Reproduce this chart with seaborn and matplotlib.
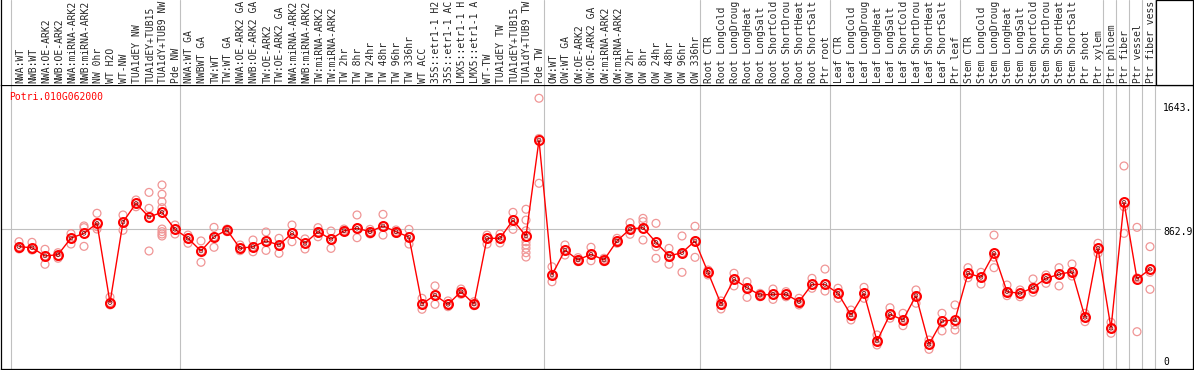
import numpy as np
import pandas as pd
import matplotlib
matplotlib.use('Agg')
import matplotlib.pyplot as plt
from matplotlib.patches import Rectangle
import seaborn as sns

# gene shown in the chart
gene = 'Potri.010G062000'

# sample labels (as displayed, cut at 14 chars)
labels = [
    'NWA:WT', 'NWB:WT', 'NWA:OE-ARK2', 'NWB:OE-ARK2', 'NWA:miRNA-ARK2', 'NWB:miRNA-ARK2',
    'NW 0hr', 'WT H2O', 'WT-NW', 'TUA1dEY NW', 'TUA1dEY+TUB15', 'TUA1dY+TUB9 NW', 'Pde NW',
    'NWA:WT GA', 'NWBWT GA', 'TW:WT', 'TW:WT GA', 'NWA:OE-ARK2 GA', 'NWB:OE-ARK2 GA',
    'TW:OE-ARK2', 'TW:OE-ARK2 GA', 'NWA:miRNA-ARK2', 'NWB:miRNA-ARK2', 'TW:miRNA-ARK2',
    'TW:miRNA-ARK2', 'TW 2hr', 'TW 8hr', 'TW 24hr', 'TW 48hr', 'TW 96hr', 'TW 336hr',
    'WT ACC', '35S::etr1-1 H2', '35S::etr1-1 AC', 'LMX5::etr1-1 H', 'LMX5::etr1-1 A',
    'WT-TW', 'TUA1dEY TW', 'TUA1dEY+TUB15', 'TUA1dY+TUB9 TW', 'Pde TW',
    'OW:WT', 'OW:WT GA', 'OW:OE-ARK2', 'OW:OE-ARK2 GA', 'OW:miRNA-ARK2', 'OW:miRNA-ARK2',
    'OW 2hr', 'OW 8hr', 'OW 24hr', 'OW 48hr', 'OW 96hr', 'OW 336hr',
    'Root CTR', 'Root LongCold', 'Root LongDroug', 'Root LongHeat', 'Root LongSalt',
    'Root ShortCold', 'Root ShortDrou', 'Root ShortHeat', 'Root ShortSalt', 'Ptr root',
    'Leaf CTR', 'Leaf LongCold', 'Leaf LongDroug', 'Leaf LongHeat', 'Leaf LongSalt',
    'Leaf ShortCold', 'Leaf ShortDrou', 'Leaf ShortHeat', 'Leaf ShortSalt', 'Ptr leaf',
    'Stem CTR', 'Stem LongCold', 'Stem LongDroug', 'Stem LongHeat', 'Stem LongSalt',
    'Stem ShortCold', 'Stem ShortDrou', 'Stem ShortHeat', 'Stem ShortSalt', 'Ptr shoot',
    'Ptr xylem', 'Ptr phloem', 'Ptr fiber', 'Ptr vessel', 'Ptr fiber vess',
]

# number of samples in each group (separated by grey lines)
group_sizes = [13, 28, 12, 10, 10, 11, 1, 1, 1, 1]

# mean expression per sample
means = [
    746, 739, 686, 694, 802, 832, 897, 384, 905, 1026, 938, 968, 858,
    800, 718, 810, 854, 735, 746, 783, 757, 832, 768, 843, 794, 849, 865, 843, 880,
    843, 808, 375, 433, 373, 455, 375, 800, 800, 918, 815, 1436,
    563, 724, 660, 697, 660, 783, 860, 869, 774, 686, 707, 783,
    580, 375, 535, 481, 433, 438, 438, 390, 502, 502,
    444, 304, 444, 136, 308, 272, 429, 114, 265, 272,
    574, 548, 703, 455, 444, 481, 541, 567, 584, 289, 735,
    218, 1033, 537, 600,
]

# replicate values per sample
reps = [
    [778, 746, 731], [774, 735, 724], [729, 686, 632], [707, 681, 671], [830, 800, 763],
    [880, 869, 748], [962, 875, 860], [420, 384, 369], [951, 905, 852], [1048, 1026, 1004],
    [1097, 994, 718], [1145, 1085, 1037, 998, 860, 843, 828, 815], [886, 858, 828],
    [821, 800, 768], [783, 718, 645], [871, 810, 742], [860, 854, 843], [757, 735, 720],
    [789, 746, 713], [841, 783, 722], [800, 757, 703], [886, 832, 778], [796, 768, 731],
    [869, 843, 810], [847, 794, 735], [860, 849, 843], [951, 865, 804], [858, 843, 828],
    [955, 880, 821], [854, 843, 832], [858, 808, 763], [412, 375, 341], [492, 433, 373],
    [395, 373, 358], [472, 455, 438], [390, 375, 364], [821, 800, 763], [828, 800, 770],
    [968, 918, 858], [988, 918, 849, 778, 757, 735, 707, 679], [1706, 1446, 1156],
    [616, 563, 519], [757, 724, 692], [675, 660, 649], [742, 697, 655], [671, 660, 649],
    [800, 783, 768], [901, 860, 826], [929, 908, 789], [897, 746, 671], [735, 686, 632],
    [815, 707, 580], [878, 783, 677],
    [595, 580, 563], [395, 375, 343], [574, 535, 492], [519, 481, 418], [444, 433, 422],
    [472, 438, 405], [455, 438, 422], [412, 390, 369], [541, 502, 477], [601, 502, 459],
    [477, 444, 412], [336, 304, 272], [483, 444, 412], [175, 136, 110], [351, 308, 283],
    [315, 272, 235], [466, 429, 380], [142, 114, 82], [315, 265, 201], [369, 240, 207],
    [610, 574, 545], [580, 548, 504], [821, 678, 610], [498, 455, 429], [466, 444, 422],
    [537, 481, 451], [563, 541, 509], [610, 567, 492], [634, 584, 556], [315, 289, 261],
    [768, 735, 703],
    [257, 218, 186], [1268, 1004, 832], [871, 544, 196], [746, 580, 470],
]

# values printed on the right side
y_ticks = [1643, 862.9, 0]
y_tick_labels = ['1643.', '862.9', '0']

idx = np.arange(len(labels))
rep_df = pd.DataFrame(
    [(i, v) for i, vals in enumerate(reps) for v in vals], columns=['sample', 'value'])

sns.set_style('white')
plt.rcParams['font.family'] = ['DejaVu Sans Mono']
plt.rcParams['font.size'] = 7

W, H = 1194, 370
fig = plt.figure(figsize=(W / 100, H / 100), dpi=100)
ax = fig.add_axes([1 / W, 1 / H, 1192 / W, 284 / H])
hax = fig.add_axes([1 / W, 285 / H, 1192 / W, 85 / H], sharex=ax)

grey = '#c0c0c0'
red = '#ff0000'
pink = '#f09696'

# grey lines between groups
seps = np.concatenate([[0], np.cumsum(group_sizes)]) - 0.6
for s in seps:
    ax.axvline(s, color=grey, lw=0.8, zorder=0)
    hax.axvline(s, color=grey, lw=0.8, zorder=0)
ax.axhline(862.9, xmin=0, xmax=0.972, color=grey, lw=0.8, zorder=0)

# replicates, mean line and mean markers
sns.scatterplot(data=rep_df, x='sample', y='value', ax=ax, marker='o', s=32,
                color=pink, facecolors='none', edgecolor=pink, linewidth=0.9, zorder=2)
sns.lineplot(x=idx, y=means, ax=ax, color=red, lw=1.0, marker='o', ms=6.4,
             mfc='none', mec=red, mew=1.5, zorder=3)
sns.scatterplot(x=idx, y=means, ax=ax, marker='o', s=7, color='#700000',
                facecolors='none', edgecolor='#700000', linewidth=0.5, zorder=4)

ax.set_xlim(-18 / 13, 1174 / 13)
ax.set_ylim(-45.3, 1791.7)
ax.set_xticks([])
ax.set_yticks([])
ax.set_xlabel('')
ax.set_ylabel('')
for sp in ax.spines.values():
    sp.set_color('black')
    sp.set_linewidth(0.9)

ax.text(0.007, 0.958, gene, color=red, ha='left', va='center', transform=ax.transAxes)
for v, t, dy in zip(y_ticks, y_tick_labels, [0, -3, 0]):
    ax.annotate(t, xy=(0.9748, v), xycoords=ax.get_yaxis_transform(),
                xytext=(0, dy), textcoords='offset pixels', ha='left', va='center',
                color='black')

# header with rotated sample names
hax.set_ylim(0, 1)
hax.set_yticks([])
hax.tick_params(bottom=False, labelbottom=False)
for name in ['top', 'bottom']:
    hax.spines[name].set_visible(False)
for name in ['left', 'right']:
    hax.spines[name].set_color('black')
    hax.spines[name].set_linewidth(0.9)
for i, lab in enumerate(labels):
    hax.text(i + 0.1, 0.025, lab, rotation=90, ha='center', va='bottom',
             transform=hax.get_xaxis_transform())
hax.add_patch(Rectangle((seps[-1] + 0.03, 0), 10, 1, transform=hax.get_xaxis_transform(),
                        fill=False, edgecolor='black', lw=0.9, clip_on=False))

fig.savefig('out.png', dpi=100)
